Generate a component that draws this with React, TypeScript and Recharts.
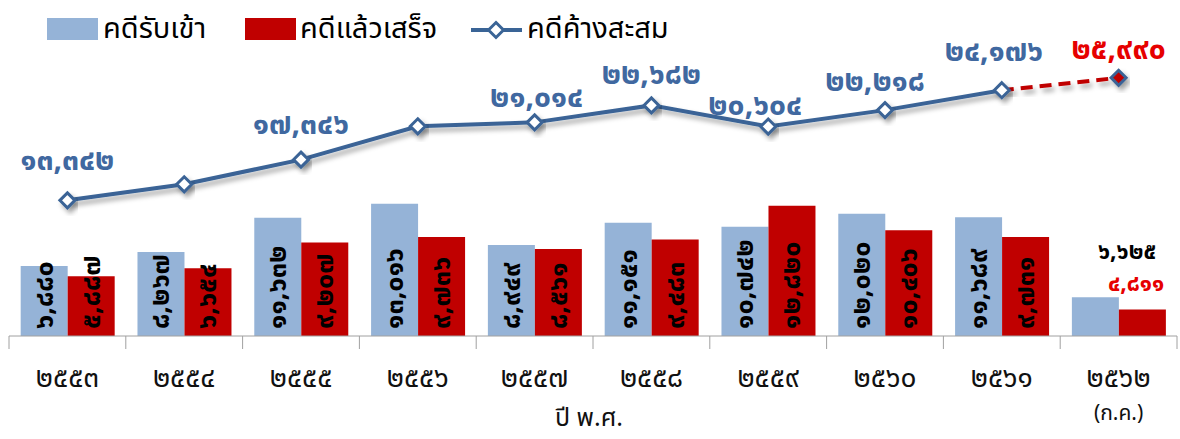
import React from 'react';
import { ComposedChart, Bar, Line, XAxis, YAxis, LabelList, Label } from 'recharts';

const years = ['๒๕๕๓', '๒๕๕๔', '๒๕๕๕', '๒๕๕๖', '๒๕๕๗', '๒๕๕๘', '๒๕๕๙', '๒๕๖๐', '๒๕๖๑', '๒๕๖๒'];
const yearNotes = ['', '', '', '', '', '', '', '', '', '(ก.ค.)'];

// bar / point values as drawn (the last year is drawn shorter than its labels in the source)
const received = [6880, 8267, 11632, 13016, 8949, 11151, 10742, 12020, 11689, 3800];
const completed = [5887, 6654, 9207, 9736, 8561, 9483, 12820, 10406, 9731, 2600];
const pending = [13342, 14921, 17346, 20626, 21014, 22682, 20604, 22218, 24176, null];
const pendingForecast = [null, null, null, null, null, null, null, null, 24176, 25400];

const receivedLabels = ['๖,๘๘๐', '๘,๒๖๗', '๑๑,๖๓๒', '๑๓,๐๑๖', '๘,๙๔๙', '๑๑,๑๕๑', '๑๐,๗๔๒', '๑๒,๐๒๐', '๑๑,๖๘๙', '๖,๖๒๕'];
const completedLabels = ['๕,๘๘๗', '๖,๖๕๔', '๙,๒๐๗', '๙,๗๓๖', '๘,๕๖๑', '๙,๔๘๓', '๑๒,๘๒๐', '๑๐,๔๐๖', '๙,๗๓๑', '๔,๘๑๑'];
const pendingLabels = ['๑๓,๓๔๒', '', '๑๗,๓๔๖', '', '๒๑,๐๑๔', '๒๒,๖๘๒', '๒๐,๖๐๔', '๒๒,๒๑๘', '๒๔,๑๗๖', '๒๕,๙๙๐'];

const data = years.map((year, i) => ({
  year,
  received: received[i],
  completed: completed[i],
  pending: pending[i],
  forecast: pendingForecast[i],
}));

const BLUE_BAR = '#95B3D7';
const RED_BAR = '#C00000';
const LINE_BLUE = '#3A6496';
const LABEL_BLUE = '#4068A0';
const LABEL_RED = '#E60000';
const FONT = "'Noto Sans Thai', 'Noto Sans', 'DejaVu Sans', sans-serif";

const W = 1180;
const H = 439;
const M_LEFT = 9;
const M_RIGHT = 3;
const BAND = (W - M_LEFT - M_RIGHT) / years.length;
const LAST = years.length - 1;

// where each line label sits relative to its point
const pendingLabelOffsets = [
  [0, -39], [0, 0], [0, -35], [0, 0], [2, -24],
  [0, -30], [-13, -21], [-10, -28], [-8, -38], [0, -28],
];

const Diamond = (props: any) => {
  const { cx, cy, fill } = props;
  if (cx == null || cy == null) return null;
  const r = 7.5;
  return (
    <polygon
      points={`${cx},${cy - r} ${cx + r},${cy} ${cx},${cy + r} ${cx - r},${cy}`}
      fill={fill}
      stroke={LINE_BLUE}
      strokeWidth={3}
      filter="url(#shadow)"
    />
  );
};

const YearTick = (props: any) => {
  const { x, y, payload, index } = props;
  const half = BAND / 2;
  return (
    <g>
      <line x1={x - half} x2={x - half} y1={y} y2={y + 13} stroke="#A0A0A0" strokeWidth={1} />
      {index === LAST && (
        <line x1={x + half} x2={x + half} y1={y} y2={y + 13} stroke="#A0A0A0" strokeWidth={1} />
      )}
      <text x={x} y={y + 42} textAnchor="middle" dominantBaseline="central" fontSize={28} fill="#111" fontFamily={FONT}>
        {payload.value}
      </text>
      {yearNotes[index] && (
        <text x={x} y={y + 77} textAnchor="middle" dominantBaseline="central" fontSize={21} fill="#111" fontFamily={FONT}>
          {yearNotes[index]}
        </text>
      )}
    </g>
  );
};

const barLabel = (labels: string[], last: { dx: number; dy: number; color: string }) => (props: any) => {
  const { x, y, width, height, index } = props;
  if (index === LAST) {
    return (
      <text x={x + last.dx} y={y + last.dy} dominantBaseline="central" fontSize={23} fontWeight="bold" fill={last.color} fontFamily={FONT}>
        {labels[index]}
      </text>
    );
  }
  const cx = x + width / 2;
  const by = y + height - 7;
  return (
    <text
      x={cx}
      y={by}
      transform={`rotate(-90 ${cx} ${by})`}
      textAnchor="start"
      dominantBaseline="central"
      fontSize={27}
      fontWeight="bold"
      fill="#000"
      fontFamily={FONT}
    >
      {labels[index]}
    </text>
  );
};

const pendingLabel = (props: any) => {
  const { x, y, index, value } = props;
  const text = pendingLabels[index];
  if (!text || value == null || x == null || y == null) return null;
  const [dx, dy] = pendingLabelOffsets[index];
  return (
    <text
      x={x + dx}
      y={y + dy}
      textAnchor="middle"
      dominantBaseline="central"
      fontSize={30}
      fontWeight="bold"
      fill={index === LAST ? LABEL_RED : LABEL_BLUE}
      fontFamily={FONT}
    >
      {text}
    </text>
  );
};

const Legend = () => (
  <div style={{ position: 'absolute', left: 0, top: 0, width: W, height: 50, fontFamily: FONT, fontSize: 29, color: '#000' }}>
    <div style={{ position: 'absolute', left: 47, top: 18, width: 51, height: 22, background: BLUE_BAR }} />
    <div style={{ position: 'absolute', left: 103, top: 9, lineHeight: '40px' }}>คดีรับเข้า</div>
    <div style={{ position: 'absolute', left: 245, top: 18, width: 51, height: 22, background: RED_BAR }} />
    <div style={{ position: 'absolute', left: 300, top: 9, lineHeight: '40px' }}>คดีแล้วเสร็จ</div>
    <svg style={{ position: 'absolute', left: 468, top: 16 }} width={56} height={28}>
      <line x1={3} x2={54} y1={14} y2={14} stroke={LINE_BLUE} strokeWidth={4} />
      <polygon points="28,6.5 35.5,14 28,21.5 20.5,14" fill="#fff" stroke={LINE_BLUE} strokeWidth={3} />
    </svg>
    <div style={{ position: 'absolute', left: 527, top: 9, lineHeight: '40px' }}>คดีค้างสะสม</div>
  </div>
);

const AxisTitle = (props: any) => {
  const { viewBox } = props;
  return (
    <text
      x={viewBox.x + viewBox.width / 2 - 4}
      y={viewBox.y + 82}
      textAnchor="middle"
      dominantBaseline="central"
      fontSize={25}
      fill="#111"
      fontFamily={FONT}
    >
      ปี พ.ศ.
    </text>
  );
};

export default function App() {
  return (
    <div style={{ position: 'absolute', left: 0, top: 0, width: W, height: H, background: '#fff' }}>
      <ComposedChart
        width={W}
        height={H}
        data={data}
        margin={{ top: 31, right: M_RIGHT, left: M_LEFT, bottom: 0 }}
        barCategoryGap="10%"
        barGap={0}
      >
        <defs>
          <filter id="shadow" x="-20%" y="-50%" width="140%" height="200%">
            <feDropShadow dx={3} dy={4} stdDeviation={2.5} floodColor="#000" floodOpacity={0.35} />
          </filter>
        </defs>
        <XAxis
          dataKey="year"
          height={103}
          axisLine={{ stroke: '#A0A0A0' }}
          tickLine={false}
          tickSize={0}
          tickMargin={0}
          interval={0}
          tick={<YearTick />}
        >
          <Label content={<AxisTitle />} />
        </XAxis>
        <YAxis hide domain={[0, 30000]} />
        <Bar dataKey="received" fill={BLUE_BAR} isAnimationActive={false}>
          <LabelList dataKey="received" content={barLabel(receivedLabels, { dx: 26, dy: -45, color: '#000' })} />
        </Bar>
        <Bar dataKey="completed" fill={RED_BAR} isAnimationActive={false}>
          <LabelList dataKey="completed" content={barLabel(completedLabels, { dx: -11, dy: -26, color: LABEL_RED })} />
        </Bar>
        <Line
          dataKey="forecast"
          stroke={RED_BAR}
          strokeWidth={4}
          strokeDasharray="12 7"
          filter="url(#shadow)"
          dot={(p: any) => (p.index === LAST ? <Diamond key={p.index} {...p} fill={RED_BAR} /> : <g key={p.index} />)}
          activeDot={false}
          isAnimationActive={false}
        >
          <LabelList dataKey="forecast" content={(p: any) => (p.index === LAST ? pendingLabel(p) : null)} />
        </Line>
        <Line
          dataKey="pending"
          stroke={LINE_BLUE}
          strokeWidth={4}
          filter="url(#shadow)"
          dot={(p: any) => <Diamond key={p.index} {...p} fill="#fff" />}
          activeDot={false}
          isAnimationActive={false}
        >
          <LabelList dataKey="pending" content={pendingLabel} />
        </Line>
      </ComposedChart>
      <Legend />
    </div>
  );
}
